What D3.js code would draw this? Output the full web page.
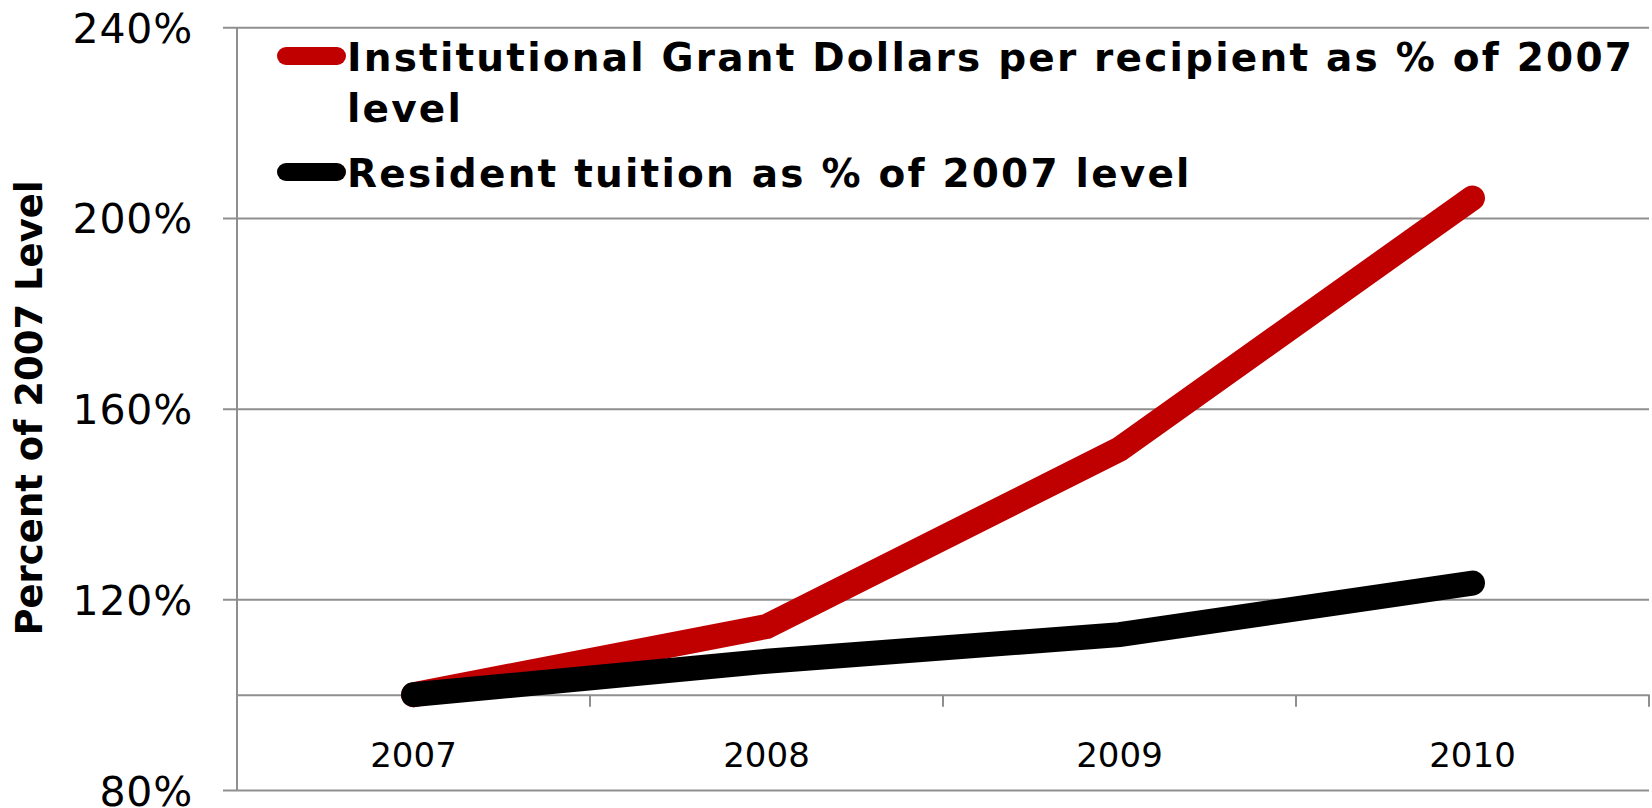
<!DOCTYPE html>
<html>
<head>
<meta charset="utf-8">
<script src="https://cdn.jsdelivr.net/npm/d3@7/dist/d3.min.js"></script>
<style>
  html, body { margin: 0; padding: 0; background: #fff; }
  svg { display: block; }
</style>
</head>
<body>
<svg id="chart" width="1652" height="808"></svg>
<script>
// ---- data ----
const years = ["2007", "2008", "2009", "2010"];
const grantPct = [100, 114.3, 151.5, 204.2];
const tuitionPct = [100, 107, 112.6, 123.4];
const yTicks = [80, 120, 160, 200, 240];
const seriesNames = [
  ["Institutional Grant Dollars per recipient as % of 2007", "level"],
  ["Resident tuition as % of 2007 level"]
];
const seriesColors = ["#C00000", "#000000"];
const yTitle = "Percent of 2007 Level";

(function () {
// ---- layout ----
const svg = d3.select("#chart");
const plotLeft = 237, plotRight = 1649, plotTop = 27.3, plotBottom = 790;
const gridColor = "#8f8f8f";

const x = d3.scaleBand().domain(years).range([plotLeft, plotRight]).padding(0);
const y = d3.scaleLinear().domain([80, 240]).range([plotBottom, plotTop]);

// gridlines + y tick labels
const yAxis = d3.axisLeft(y)
  .tickValues(yTicks)
  .tickSizeInner(-(plotRight - 223))
  .tickSizeOuter(0)
  .tickPadding(30)
  .tickFormat(d => d + "%");
const gy = svg.append("g").attr("transform", "translate(223,0)").call(yAxis);
gy.select(".domain").remove();
gy.selectAll(".tick line").attr("stroke", gridColor).attr("stroke-width", 2);
gy.selectAll(".tick text")
  .attr("fill", "#000")
  .attr("dy", null)
  .attr("y", 15)
  .style("font-family", "'DejaVu Sans', Verdana, sans-serif")
  .style("font-size", "41px")
  .style("letter-spacing", "0.8px");

// vertical axis line
svg.append("line")
  .attr("x1", plotLeft).attr("x2", plotLeft)
  .attr("y1", plotTop).attr("y2", plotBottom)
  .attr("stroke", gridColor).attr("stroke-width", 2);

// horizontal axis at 100%
const y100 = y(100);
const xAxis = d3.axisBottom(x).tickSizeInner(0).tickSizeOuter(0).tickPadding(48);
const gx = svg.append("g").attr("transform", `translate(0,${y100})`).call(xAxis);
gx.select(".domain").attr("stroke", gridColor).attr("stroke-width", 2);
gx.selectAll(".tick text")
  .attr("fill", "#000")
  .style("font-family", "'DejaVu Sans', Verdana, sans-serif")
  .style("font-size", "34px");
// category boundary tick marks
gx.selectAll(".cat-tick")
  .data(years)
  .enter().append("line")
  .attr("class", "cat-tick")
  .attr("x1", d => x(d) + x.step()).attr("x2", d => x(d) + x.step())
  .attr("y1", 0).attr("y2", 12)
  .attr("stroke", gridColor).attr("stroke-width", 2);

// lines
const line = d3.line()
  .x((d, i) => x(years[i]) + x.bandwidth() / 2)
  .y(d => y(d));

[grantPct, tuitionPct].forEach((vals, k) => {
  svg.append("path")
    .datum(vals)
    .attr("d", line)
    .attr("fill", "none")
    .attr("stroke", seriesColors[k])
    .attr("stroke-width", 25)
    .attr("stroke-linecap", "round")
    .attr("stroke-linejoin", "miter");
});

// legend
const legendY = [56, 172];
const lg = svg.append("g");
seriesNames.forEach((lines, k) => {
  lg.append("line")
    .attr("x1", 286).attr("x2", 337)
    .attr("y1", legendY[k]).attr("y2", legendY[k])
    .attr("stroke", seriesColors[k])
    .attr("stroke-width", 18)
    .attr("stroke-linecap", "round");
  const t = lg.append("text")
    .attr("x", 347)
    .attr("y", legendY[k] + 14.5)
    .attr("fill", "#000")
    .style("font-family", "'DejaVu Sans', Verdana, sans-serif")
    .style("font-weight", "bold")
    .style("font-size", "39px")
    .style("letter-spacing", "2.2px");
  lines.forEach((s, j) => {
    t.append("tspan").attr("x", 347).attr("dy", j === 0 ? 0 : 51).text(s);
  });
});

// y axis title
svg.append("text")
  .attr("transform", "translate(42,408) rotate(-90)")
  .attr("text-anchor", "middle")
  .attr("fill", "#000")
  .style("font-family", "'DejaVu Sans', Verdana, sans-serif")
  .style("font-weight", "bold")
  .style("font-size", "37px")
  .text(yTitle);
})();
</script>
</body>
</html>
